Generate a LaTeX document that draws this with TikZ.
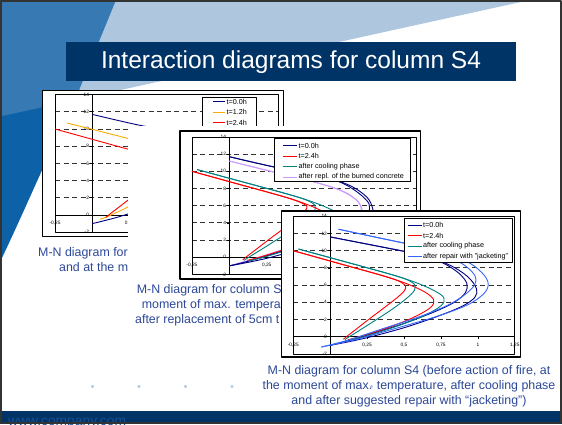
\documentclass[tikz,border=0pt]{standalone}
\usepackage{fontspec}
\setmainfont{Liberation Sans}

% couleurs du modele
\definecolor{bandeau}{RGB}{0,51,102}
\definecolor{bleufonce}{RGB}{13,97,166}
\definecolor{bleuclair}{RGB}{95,145,193}
\definecolor{texteleg}{RGB}{44,72,152}
\definecolor{puce}{RGB}{172,198,228}
\definecolor{siteweb}{RGB}{28,78,145}
% couleurs des courbes
\definecolor{cnavy}{RGB}{0,0,128}
\definecolor{crouge}{RGB}{255,0,0}
\definecolor{cteal}{RGB}{0,128,128}
\definecolor{clilas}{RGB}{204,153,255}
\definecolor{corange}{RGB}{255,170,0}
\definecolor{cbleu}{RGB}{51,102,255}

\begin{document}
\begin{tikzpicture}[x=1pt, y=-1pt, line join=round,
    grille/.style={black!80, line width=0.9pt, dash pattern=on 5pt off 3.5pt},
    axe/.style={black, line width=0.7pt},
    cadre/.style={draw=black, line width=0.8pt},
    boite/.style={fill=white, draw=black, line width=1.3pt},
    cartouche/.style={fill=white, draw=black, line width=0.8pt},
    graduation/.style={font=\fontsize{4.8}{5}\selectfont, inner sep=0.6pt},
    entree/.style={font=\fontsize{7.2}{8}\selectfont, anchor=west, inner sep=0pt},
    courbe/.style={line width=0.9pt, smooth, tension=0.55},
    legende/.style={text=texteleg, font=\fontsize{12.4}{15}\selectfont, inner sep=0pt}]

    \useasboundingbox (0,0) rectangle (562,424);
    \fill[white] (0,0) rectangle (562,424);

    % fond du modele
    \fill[bleufonce] (0,0) -- (116,0) -- (75,100) .. controls (50,150) and (25,210) .. (0,262) -- cycle;
    \fill[bleuclair, opacity=0.5] (0,0) -- (530,0) -- (0,116.5) -- cycle;

    % titre
    \fill[bandeau] (66,42) rectangle (516,81);
    \node[text=white, font=\fontsize{24.5}{28}\selectfont, inner sep=0pt] (titre) at (291,62) {Interaction diagrams for column S4};

    % puces
    \foreach \x in {92.5, 139, 185.5, 232, 371.5} {
        \fill[puce] (\x,386.5) circle (1.6pt);
    }

    % graphe 1
    \filldraw[boite] (42.7,90.5) rectangle (283.3,236.7);
    \begin{scope}[shift={(92.3,215)}, x=149pt, y=8.6pt]
        \foreach \n in {2,4,...,12} \draw[grille] (-0.25,\n) -- (1.25,\n);
        \draw[axe] (-0.25,0) -- (1.25,0);
        \draw[axe] (0,-2) -- (0,14);
        \draw[cadre] (-0.25,-2) rectangle (1.25,14);
        \foreach \n [count=\i] in {-2,0,...,14} {
            \draw[axe] (0,\n) -- ++(-2pt,0pt);
            \node[graduation, anchor=east] (g1y\i) at ([xshift=-2.5pt]0,\n) {\n};
        }
        \foreach \m/\t [count=\i] in {-0.25/{-0,25}, 0.25/{0,25}} {
            \draw[axe] (\m,0) -- ++(0pt,-2pt);
            \node[graduation] (g1x\i) at (\m,-0.95) {\t};
        }
        % courbes
        \draw[courbe, color=corange] plot coordinates {(-0.17,10.7) (0.24,8.9) (0.45,7.95) (0.56,7.2) (0.63,6.3) (0.64,5.4) (0.59,4.4) (0.48,3.1) (0.34,1.8) (0.2,0.6) (0.1,-0.2) (0.05,-0.5)};
        \draw[courbe, color=crouge] plot coordinates {(-0.25,10) (0.1,8.32) (0.35,7.12) (0.46,6.5) (0.51,5.9) (0.5,5.3) (0.45,4.5) (0.36,3.3) (0.26,2.0) (0.17,0.8) (0.11,0) (0.09,-0.3)};
        \draw[courbe, color=cnavy] plot coordinates {(0,11.7) (0.3,10.5) (0.6,9.5) (0.76,8.6) (0.87,7.4) (0.925,6.2) (0.915,5.1) (0.84,4.0) (0.7,2.85) (0.5,1.55) (0.3,0.45) (0.15,-0.35) (0,-1)};
    \end{scope}
    % legende graphe 1
    \filldraw[cartouche] (202,97.5) rectangle (256,131);
    \foreach \y/\c/\t [count=\i] in {101.5/cnavy/t=0.0h, 112/corange/t=1.2h, 122.5/crouge/t=2.4h} {
        \draw[color=\c, line width=0.9pt] (213,\y) -- (225,\y);
        \node[entree] (l1\i) at (226.5,\y) {\t};
    }
    \node[legende, anchor=west] (leg1a) at (38,253) {M-N diagram for};
    \node[legende, anchor=west] (leg1b) at (59,267) {and at the m};

    % graphe 2
    \fill[white] (128,126) rectangle (423,283.5);
    \filldraw[boite] (180,131) rectangle (420.5,279);
    \begin{scope}[shift={(229.3,257.3)}, x=149.5pt, y=8.6pt]
        \foreach \n in {2,4,...,12} \draw[grille] (-0.25,\n) -- (1.25,\n);
        \draw[axe] (-0.25,0) -- (1.25,0);
        \draw[axe] (0,-2) -- (0,14);
        \draw[cadre] (-0.25,-2) rectangle (1.25,14);
        \foreach \n [count=\i] in {-2,0,...,14} {
            \draw[axe] (0,\n) -- ++(-2pt,0pt);
            \node[graduation, anchor=east] (g2y\i) at ([xshift=-2.5pt]0,\n) {\n};
        }
        \foreach \m/\t [count=\i] in {-0.25/{-0,25}, 0.25/{0,25}} {
            \draw[axe] (\m,0) -- ++(0pt,-2pt);
            \node[graduation] (g2x\i) at (\m,-0.95) {\t};
        }
        % courbes
        \draw[courbe, color=clilas] plot coordinates {(0,11.2) (0.3,9.9) (0.58,8.7) (0.74,7.8) (0.84,6.8) (0.88,5.9) (0.87,5.0) (0.79,3.9) (0.64,2.7) (0.44,1.4) (0.25,0.3) (0.12,-0.4) (0,-1)};
        \draw[courbe, color=clilas] plot coordinates {(0,11.2) (0.3,9.9) (0.58,8.7) (0.76,7.7) (0.86,6.5) (0.89,5.3) (0.86,4.4) (0.76,3.3) (0.6,2.2) (0.4,1.0) (0.22,0.0) (0.1,-0.55) (0,-1)};
        \draw[courbe, color=cnavy] plot coordinates {(0,11.7) (0.3,10.5) (0.6,9.5) (0.76,8.6) (0.87,7.4) (0.935,6.2) (0.925,5.1) (0.84,4.0) (0.7,2.85) (0.5,1.55) (0.3,0.45) (0.15,-0.35) (0,-1)};
        \draw[courbe, color=cnavy] plot coordinates {(0,11.7) (0.3,10.5) (0.6,9.5) (0.8,8.4) (0.92,7.0) (0.96,5.6) (0.95,4.6) (0.88,3.6) (0.72,2.45) (0.5,1.15) (0.3,0.1) (0.15,-0.5) (0,-1)};
        \draw[courbe, color=crouge] plot coordinates {(-0.25,10) (0.1,8.32) (0.35,7.12) (0.46,6.5) (0.52,5.9) (0.5,5.3) (0.45,4.5) (0.36,3.3) (0.26,2.0) (0.17,0.8) (0.11,0) (0.09,-0.3)};
        \draw[courbe, color=crouge] plot coordinates {(-0.25,10) (0.1,8.32) (0.35,7.12) (0.52,6.15) (0.64,5.2) (0.7,4.3) (0.68,3.4) (0.57,2.3) (0.4,1.1) (0.22,0.1) (0.12,-0.35)};
        \draw[courbe, color=cteal] plot coordinates {(-0.215,10.2) (0.1,8.72) (0.4,7.3) (0.51,6.7) (0.57,6.1) (0.57,5.4) (0.52,4.5) (0.42,3.2) (0.3,1.85) (0.19,0.65) (0.12,-0.1) (0.1,-0.35)};
        \draw[courbe, color=cteal] plot coordinates {(-0.215,10.2) (0.1,8.72) (0.4,7.3) (0.58,6.3) (0.71,5.3) (0.77,4.5) (0.75,3.6) (0.63,2.4) (0.44,1.15) (0.24,0.05) (0.13,-0.4)};
    \end{scope}
    % legende graphe 2
    \filldraw[cartouche] (274.3,138.3) rectangle (410,181.7);
    \foreach \y/\c/\t [count=\i] in {145.5/cnavy/t=0.0h, 156/crouge/t=2.4h, 166.5/cteal/after cooling phase, 177/clilas/after repl. of the burned concrete} {
        \draw[color=\c, line width=0.9pt] (283,\y) -- (297,\y);
        \node[entree] (l2\i) at (298.5,\y) {\t};
    }
    \node[legende, anchor=west] (leg2a) at (136.7,290.7) {M-N diagram for column S};
    \node[legende, anchor=west] (leg2b) at (141.7,305) {moment of max. tempera};
    \node[legende, anchor=west] (leg2c) at (135,320) {after replacement of 5cm t};

    % graphe 3
    \filldraw[boite] (281.7,211) rectangle (520.7,357);
    \begin{scope}[shift={(330.2,336.7)}, x=147.7pt, y=8.6pt]
        \foreach \n in {2,4,...,12} \draw[grille] (-0.25,\n) -- (1.25,\n);
        \draw[axe] (-0.25,0) -- (1.25,0);
        \draw[axe] (0,-2) -- (0,14);
        \draw[cadre] (-0.25,-2) rectangle (1.25,14);
        \foreach \n [count=\i] in {-2,0,...,14} {
            \draw[axe] (0,\n) -- ++(-2pt,0pt);
            \node[graduation, anchor=east] (g3y\i) at ([xshift=-2.5pt]0,\n) {\n};
        }
        \foreach \m/\t [count=\i] in {-0.25/{-0,25}, 0.25/{0,25}, 0.5/{0,5}, 0.75/{0,75}, 1/1, 1.25/{1,25}} {
            \draw[axe] (\m,0) -- ++(0pt,-2pt);
            \node[graduation] (g3x\i) at (\m,-0.95) {\t};
        }
        % courbes
        \draw[courbe, color=cnavy] plot coordinates {(0,11.6) (0.3,10.6) (0.6,9.55) (0.76,8.6) (0.87,7.4) (0.925,6.2) (0.915,5.1) (0.84,4.0) (0.7,2.85) (0.5,1.55) (0.3,0.45) (0.15,-0.35) (0,-1)};
        \draw[courbe, color=cnavy] plot coordinates {(0,11.6) (0.3,10.6) (0.6,9.55) (0.8,8.4) (0.93,7.0) (0.99,5.6) (0.98,4.6) (0.9,3.6) (0.74,2.45) (0.52,1.15) (0.3,0.1) (0.15,-0.5) (0,-1)};
        \draw[courbe, color=crouge] plot coordinates {(-0.25,10) (0.1,8.32) (0.35,7.12) (0.46,6.5) (0.51,5.9) (0.5,5.3) (0.45,4.5) (0.36,3.3) (0.26,2.0) (0.17,0.8) (0.11,0) (0.09,-0.3)};
        \draw[courbe, color=crouge] plot coordinates {(-0.25,10) (0.1,8.32) (0.35,7.12) (0.52,6.15) (0.64,5.2) (0.7,4.3) (0.68,3.4) (0.57,2.3) (0.4,1.1) (0.22,0.1) (0.12,-0.35)};
        \draw[courbe, color=cteal] plot coordinates {(-0.215,10.2) (0.1,8.72) (0.4,7.3) (0.51,6.7) (0.57,6.1) (0.57,5.4) (0.52,4.5) (0.42,3.2) (0.3,1.85) (0.19,0.65) (0.12,-0.1) (0.1,-0.35)};
        \draw[courbe, color=cteal] plot coordinates {(-0.215,10.2) (0.1,8.72) (0.4,7.3) (0.58,6.3) (0.71,5.3) (0.77,4.5) (0.75,3.6) (0.63,2.4) (0.44,1.15) (0.24,0.05) (0.13,-0.4)};
        \draw[courbe, color=cbleu] plot coordinates {(0.056,12.5) (0.3,11.6) (0.6,10.5) (0.78,9.5) (0.91,8.3) (0.98,7.1) (0.98,6.1) (0.92,5.0) (0.8,3.7) (0.6,2.3) (0.35,0.9) (0.12,-0.4) (-0.06,-1.2)};
        \draw[courbe, color=cbleu] plot coordinates {(0.056,12.5) (0.3,11.6) (0.6,10.5) (0.8,9.6) (0.95,8.5) (1.04,7.2) (1.07,6.1) (1.04,5.0) (0.93,3.7) (0.72,2.35) (0.45,1.0) (0.18,-0.3) (-0.06,-1.2)};
    \end{scope}
    % legende graphe 3
    \filldraw[cartouche] (404.3,218.3) rectangle (512.7,262.3);
    \foreach \y/\c/\t [count=\i] in {225/cnavy/t=0.0h, 235.5/crouge/t=2.4h, 246/cteal/after cooling phase, 256.5/cbleu/after repair with "jacketing"} {
        \draw[color=\c, line width=0.9pt] (408.3,\y) -- (421.7,\y);
        \node[entree] (l3\i) at (423,\y) {\t};
    }
    \node[legende, align=center] (leg3) at (409,386) {M-N diagram for column S4 (before action of fire, at\\the moment of max. temperature, after cooling phase\\and after suggested repair with ``jacketing'')};

    % bas de page
    \fill[bandeau] (0,410.5) rectangle (562,424);
    \node[anchor=base west, text=siteweb, font=\fontsize{13.8}{16}\selectfont, inner sep=0pt] (site) at (8,425.5) {www.company.com};

    % cadre de la diapositive
    \draw[black!80, line width=2.4pt] (1.2,1.2) rectangle (560.8,422.8);

\end{tikzpicture}
\end{document}
